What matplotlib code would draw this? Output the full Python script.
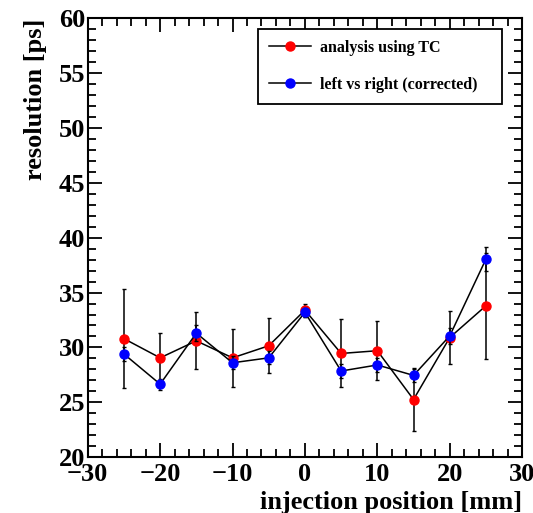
import matplotlib
matplotlib.use("Agg")
import matplotlib.pyplot as plt
from matplotlib.lines import Line2D
from matplotlib.ticker import MultipleLocator

# ---- data ----
positions = [-25, -20, -15, -10, -5, 0, 5, 10, 15, 20, 25]

tc_res = [30.8, 29.05, 30.6, 29.05, 30.15, 33.4, 29.45, 29.7, 25.25, 30.9, 33.8]
tc_err = [4.5, 2.3, 2.6, 2.65, 2.5, 0.6, 3.1, 2.7, 2.85, 2.4, 4.85]

lr_res = [29.4, 26.65, 31.3, 28.6, 29.05, 33.2, 27.85, 28.4, 27.45, 31.05, 38.05]
lr_err = [0.6, 0.5, 0.7, 0.6, 0.6, 0.4, 0.6, 0.6, 0.6, 0.7, 1.1]

labels = ["analysis using TC", "left vs right (corrected)"]

plt.rcParams["font.family"] = ["Liberation Serif", "DejaVu Serif"]
plt.rcParams["font.weight"] = "bold"

fig = plt.figure(figsize=(5.33, 5.13), dpi=100)
ax = fig.add_axes([0.1646, 0.109, 0.815, 0.855])

# red: TC analysis, blue: left vs right (drawn on top)
ax.errorbar(positions, tc_res, yerr=tc_err, fmt="-o", color="black", lw=1.1,
            ms=6.5, mfc="red", mec="red", ecolor="black", elinewidth=1.1,
            capsize=1.2, zorder=3)
ax.errorbar(positions, lr_res, yerr=lr_err, fmt="-o", color="black", lw=1.1,
            ms=6.5, mfc="blue", mec="blue", ecolor="black", elinewidth=1.1,
            capsize=1.2, zorder=4)

ax.set_xlim(-30, 30)
ax.set_ylim(20, 60)

ax.xaxis.set_major_locator(MultipleLocator(10))
ax.xaxis.set_minor_locator(MultipleLocator(2))
ax.yaxis.set_major_locator(MultipleLocator(5))
ax.yaxis.set_minor_locator(MultipleLocator(1))

# ROOT-like frame: inward ticks on every side
ax.tick_params(which="both", direction="in", top=True, right=True, width=1.3)
ax.tick_params(which="major", length=10, labelsize=19)
ax.tick_params(axis="y", which="major", pad=2)
ax.tick_params(axis="x", which="major", pad=4)
ax.tick_params(which="minor", length=5.5)
for lab in ax.get_xticklabels() + ax.get_yticklabels():
    lab.set_fontweight("bold")
for s in ax.spines.values():
    s.set_linewidth(1.5)

ax.set_xlabel("injection position [mm]", fontsize=19, fontweight="bold",
              loc="right", labelpad=4)
ax.set_ylabel("resolution [ps]", fontsize=19, fontweight="bold",
              loc="top", labelpad=8)

handles = [
    Line2D([], [], color="black", lw=1.1, marker="o", ms=6.5, mfc="red", mec="red"),
    Line2D([], [], color="black", lw=1.1, marker="o", ms=6.5, mfc="blue", mec="blue"),
]
leg = ax.legend(handles, labels, loc="upper left",
                bbox_to_anchor=(0.392, 0.977, 0.562, 0.0),
                mode="expand", borderaxespad=0, handlelength=2.6,
                handletextpad=0.55, labelspacing=1.3, borderpad=0.7,
                fancybox=False, framealpha=1, edgecolor="black",
                prop={"weight": "bold", "size": 11.5})
leg.get_frame().set_linewidth(1.3)

fig.savefig("out.png", dpi=100)
